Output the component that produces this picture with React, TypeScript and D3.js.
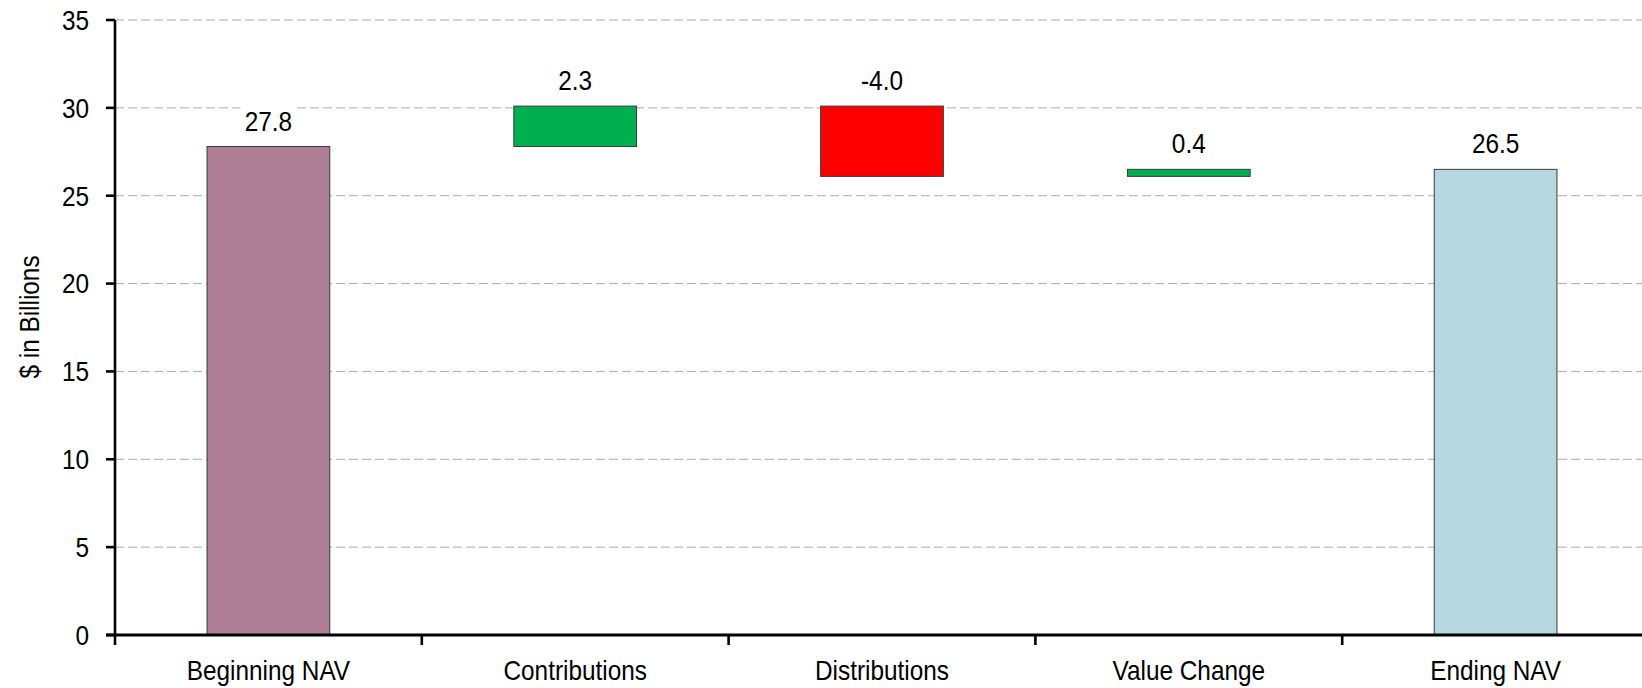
import * as d3 from "d3";

const categories = ["Beginning NAV", "Contributions", "Distributions", "Value Change", "Ending NAV"];
const values = [27.8, 2.3, -4.0, 0.4, 26.5];
const isTotal = [true, false, false, false, true];
const colors = ["#ad7e96", "#00b050", "#ff0000", "#00b050", "#b5d8de"];
const yTicks = [0, 5, 10, 15, 20, 25, 30, 35];

const width = 1642;
const height = 688;
const marginLeft = 115;
const plotRight = 1649; // axis runs past the right edge
const yBottom = 635;
const yTop = 20;
const font = "'Liberation Sans', Arial, sans-serif";
const narrow = 0.87; // reference uses a condensed face

function NText({ x, y, anchor = "middle", size = 28, dy, rotate = 0, children }: any) {
  return (
    <g transform={`translate(${x},${y}) rotate(${rotate}) scale(${narrow},1)`}>
      <text textAnchor={anchor} fontSize={size} dy={dy} fill="#000">
        {children}
      </text>
    </g>
  );
}

export default function App() {
  const x = d3.scaleBand<string>().domain(categories).range([marginLeft, plotRight]).paddingInner(0.6).paddingOuter(0.3);
  const y = d3.scaleLinear().domain([0, 35]).range([yBottom, yTop]);
  const step = x.step();

  // waterfall extents
  let running = 0;
  const bars = categories.map((c, i) => {
    let lo: number, hi: number;
    if (isTotal[i]) {
      lo = 0;
      hi = values[i];
      running = values[i];
    } else {
      const next = running + values[i];
      lo = Math.min(running, next);
      hi = Math.max(running, next);
      running = next;
    }
    return { c, lo, hi, v: values[i], color: colors[i] };
  });

  return (
    <svg width={width} height={height} style={{ position: "absolute", left: 0, top: 0 }} fontFamily={font}>
      {yTicks.map((t) => (
        <line key={"g" + t} x1={marginLeft} x2={width} y1={y(t)} y2={y(t)} stroke="#ababab" strokeWidth={1} strokeDasharray="9,4" />
      ))}
      {bars.map((b) => (
        <rect
          key={b.c}
          x={x(b.c)!}
          y={y(b.hi)}
          width={x.bandwidth()}
          height={y(b.lo) - y(b.hi)}
          fill={b.color}
          stroke="#3a3a3a"
          strokeWidth={1}
        />
      ))}
      {bars.map((b) => {
        const cx = x(b.c)! + x.bandwidth() / 2;
        const base = y(b.hi) - 16;
        const label = b.v.toFixed(1);
        const w = label.length * 12 + 8;
        return (
          <g key={"l" + b.c}>
            <rect x={cx - w / 2} y={base - 25} width={w} height={29} fill="#fff" />
            <NText x={cx} y={base} size={28}>
              {label}
            </NText>
          </g>
        );
      })}
      {/* y axis */}
      <line x1={marginLeft} x2={marginLeft} y1={yTop} y2={yBottom} stroke="#000" strokeWidth={2.6} />
      {yTicks.map((t) => (
        <g key={"t" + t}>
          <line x1={marginLeft - 9} x2={marginLeft} y1={y(t)} y2={y(t)} stroke="#000" strokeWidth={2.6} />
          <NText x={89} y={y(t)} dy="0.35em" anchor="end" size={28}>
            {t}
          </NText>
        </g>
      ))}
      {/* x axis */}
      <line x1={marginLeft - 9} x2={width} y1={yBottom} y2={yBottom} stroke="#000" strokeWidth={2.8} />
      {categories.map((c, i) => (
        <g key={"x" + c}>
          <line x1={marginLeft + i * step} x2={marginLeft + i * step} y1={yBottom} y2={yBottom + 10} stroke="#000" strokeWidth={2.6} />
          <NText x={x(c)! + x.bandwidth() / 2} y={680} size={28}>
            {c}
          </NText>
        </g>
      ))}
      <NText x={39} y={317} rotate={-90} size={28}>
        $ in Billions
      </NText>
    </svg>
  );
}
